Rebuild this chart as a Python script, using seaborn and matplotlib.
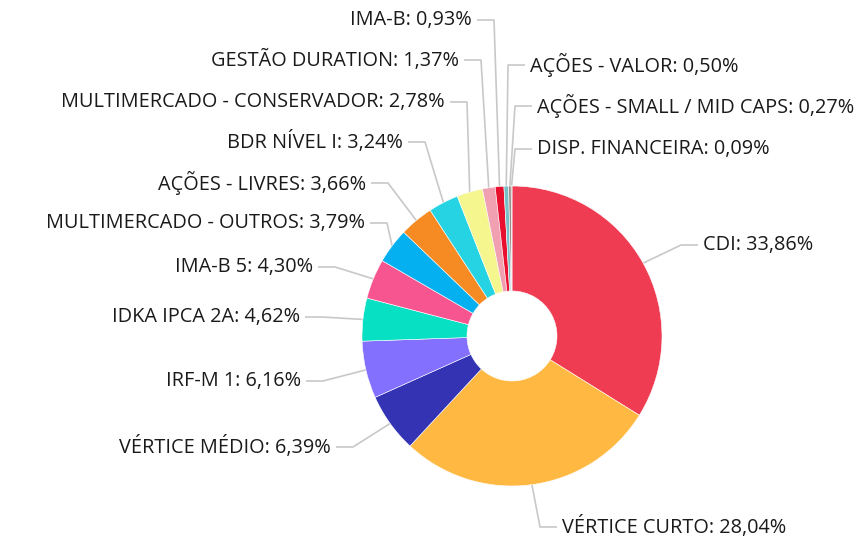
import matplotlib
matplotlib.use("Agg")
import matplotlib.pyplot as plt
import seaborn as sns
import numpy as np

categories = ["CDI", "VÉRTICE CURTO", "VÉRTICE MÉDIO", "IRF-M 1", "IDKA IPCA 2A",
              "IMA-B 5", "MULTIMERCADO - OUTROS", "AÇÕES - LIVRES", "BDR NÍVEL I",
              "MULTIMERCADO - CONSERVADOR", "GESTÃO DURATION", "IMA-B",
              "AÇÕES - VALOR", "AÇÕES - SMALL / MID CAPS", "DISP. FINANCEIRA"]
values = [33.86, 28.04, 6.39, 6.16, 4.62, 4.30, 3.79, 3.66, 3.24, 2.78, 1.37, 0.93,
          0.50, 0.27, 0.09]
colors = ["#f03c52", "#ffb943", "#3333b4", "#8470ff", "#08e0c4", "#f75590", "#05b0f0",
          "#f68b24", "#25d3e3", "#f5f68e", "#f0a0b0", "#e8102e", "#78c0c8", "#9a8a8a",
          "#606060"]

# layout: label anchor positions in pixels (x, y, side)
label_pos = [(703, 245, "L"), (562, 527, "L"), (331, 447, "R"), (301, 381, "R"),
             (300, 317, "R"), (313, 267, "R"), (365, 223, "R"), (366, 183, "R"),
             (403, 142, "R"), (445, 102, "R"), (459, 60, "R"), (472, 20, "R"),
             (530, 65, "L"), (537, 106, "L"), (537, 149, "L")]

sns.set_theme(style="white")
plt.rcParams['font.family'] = ['Open Sans', 'DejaVu Sans']

W, H = 856, 538
CX, CY, R = 512, 336, 150
fig = plt.figure(figsize=(W / 100, H / 100), dpi=100)
ax = fig.add_axes([0, 0, 1, 1])

def to_d(px, py):
    return (px - CX) / R, (CY - py) / R

wedges, _ = ax.pie(values, colors=colors, startangle=90, counterclock=False, radius=1.0,
                   wedgeprops=dict(width=0.7, edgecolor="white", linewidth=0.4))
ax.set_xlim(-CX / R, (W - CX) / R)
ax.set_ylim(-(H - CY) / R, CY / R)
ax.set_aspect("equal", adjustable="box")
ax.axis("off")

for w, cat, val, (lx, ly, side) in zip(wedges, categories, values, label_pos):
    ang = np.deg2rad((w.theta1 + w.theta2) / 2)
    ex, ey = np.cos(ang), np.sin(ang)
    sgn = 1 if side == "L" else -1
    endx = lx - sgn * 5
    ex_px = CX + ex * R
    elbx = endx - sgn * min(17, abs(endx - ex_px))
    p_end = to_d(endx, ly)
    p_elb = to_d(elbx, ly)
    ax.plot([ex, p_elb[0], p_end[0]], [ey, p_elb[1], p_end[1]], color="#c8c8c8",
            lw=1.2, solid_capstyle="butt", zorder=0)
    tx, ty = to_d(lx, ly)
    num = f"{val:.2f}".replace(".", ",")
    txt = f"{cat}: {num}%"
    ax.text(tx, ty, txt, ha="left" if side == "L" else "right", va="center",
            fontsize=14.3, color="#1a1a1a")

fig.savefig("out.png", dpi=100)
